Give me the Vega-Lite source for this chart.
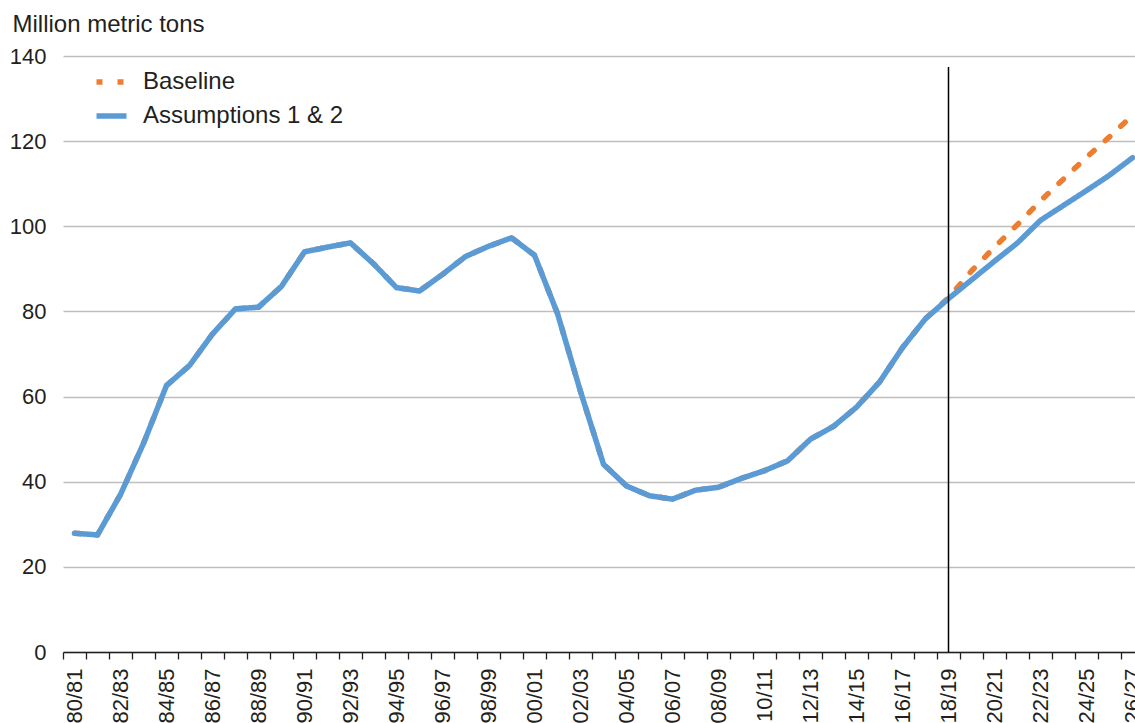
{
  "$schema": "https://vega.github.io/schema/vega-lite/v6.json",
  "width": 1081,
  "height": 596,
  "autosize": {"type": "none"},
  "padding": {"left": 63, "top": 56, "right": -9, "bottom": 71},
  "background": "white",
  "config": {
    "font": "Liberation Sans",
    "view": {"stroke": null},
    "axis": {"labelColor": "#231F20", "titleColor": "#231F20"},
    "legend": {"padding": 0}
  },
  "data": {
    "values": [
      {"year": "80/81", "series": "Baseline", "value": 27.9},
      {"year": "81/82", "series": "Baseline", "value": 27.5},
      {"year": "82/83", "series": "Baseline", "value": 37.0},
      {"year": "83/84", "series": "Baseline", "value": 49.0},
      {"year": "84/85", "series": "Baseline", "value": 62.6},
      {"year": "85/86", "series": "Baseline", "value": 67.3},
      {"year": "86/87", "series": "Baseline", "value": 74.7},
      {"year": "87/88", "series": "Baseline", "value": 80.6},
      {"year": "88/89", "series": "Baseline", "value": 81.0},
      {"year": "89/90", "series": "Baseline", "value": 85.9},
      {"year": "90/91", "series": "Baseline", "value": 94.0},
      {"year": "91/92", "series": "Baseline", "value": 95.1},
      {"year": "92/93", "series": "Baseline", "value": 96.1},
      {"year": "93/94", "series": "Baseline", "value": 91.2},
      {"year": "94/95", "series": "Baseline", "value": 85.6},
      {"year": "95/96", "series": "Baseline", "value": 84.8},
      {"year": "96/97", "series": "Baseline", "value": 88.7},
      {"year": "97/98", "series": "Baseline", "value": 92.9},
      {"year": "98/99", "series": "Baseline", "value": 95.3},
      {"year": "99/00", "series": "Baseline", "value": 97.3},
      {"year": "00/01", "series": "Baseline", "value": 93.2},
      {"year": "01/02", "series": "Baseline", "value": 79.5},
      {"year": "02/03", "series": "Baseline", "value": 61.2},
      {"year": "03/04", "series": "Baseline", "value": 44.1},
      {"year": "04/05", "series": "Baseline", "value": 39.0},
      {"year": "05/06", "series": "Baseline", "value": 36.7},
      {"year": "06/07", "series": "Baseline", "value": 35.9},
      {"year": "07/08", "series": "Baseline", "value": 38.0},
      {"year": "08/09", "series": "Baseline", "value": 38.7},
      {"year": "09/10", "series": "Baseline", "value": 40.8},
      {"year": "10/11", "series": "Baseline", "value": 42.6},
      {"year": "11/12", "series": "Baseline", "value": 44.9},
      {"year": "12/13", "series": "Baseline", "value": 50.0},
      {"year": "13/14", "series": "Baseline", "value": 53.0},
      {"year": "14/15", "series": "Baseline", "value": 57.5},
      {"year": "15/16", "series": "Baseline", "value": 63.4},
      {"year": "16/17", "series": "Baseline", "value": 71.5},
      {"year": "17/18", "series": "Baseline", "value": 78.3},
      {"year": "18/19", "series": "Baseline", "value": 83.2},
      {"year": "19/20", "series": "Baseline", "value": 89.5},
      {"year": "20/21", "series": "Baseline", "value": 95.1},
      {"year": "21/22", "series": "Baseline", "value": 100.4},
      {"year": "22/23", "series": "Baseline", "value": 106.0},
      {"year": "23/24", "series": "Baseline", "value": 111.1},
      {"year": "24/25", "series": "Baseline", "value": 116.2},
      {"year": "25/26", "series": "Baseline", "value": 121.0},
      {"year": "26/27", "series": "Baseline", "value": 126.1},
      {"year": "80/81", "series": "Assumptions 1 & 2", "value": 27.9},
      {"year": "81/82", "series": "Assumptions 1 & 2", "value": 27.5},
      {"year": "82/83", "series": "Assumptions 1 & 2", "value": 37.0},
      {"year": "83/84", "series": "Assumptions 1 & 2", "value": 49.0},
      {"year": "84/85", "series": "Assumptions 1 & 2", "value": 62.6},
      {"year": "85/86", "series": "Assumptions 1 & 2", "value": 67.3},
      {"year": "86/87", "series": "Assumptions 1 & 2", "value": 74.7},
      {"year": "87/88", "series": "Assumptions 1 & 2", "value": 80.6},
      {"year": "88/89", "series": "Assumptions 1 & 2", "value": 81.0},
      {"year": "89/90", "series": "Assumptions 1 & 2", "value": 85.9},
      {"year": "90/91", "series": "Assumptions 1 & 2", "value": 94.0},
      {"year": "91/92", "series": "Assumptions 1 & 2", "value": 95.1},
      {"year": "92/93", "series": "Assumptions 1 & 2", "value": 96.1},
      {"year": "93/94", "series": "Assumptions 1 & 2", "value": 91.2},
      {"year": "94/95", "series": "Assumptions 1 & 2", "value": 85.6},
      {"year": "95/96", "series": "Assumptions 1 & 2", "value": 84.8},
      {"year": "96/97", "series": "Assumptions 1 & 2", "value": 88.7},
      {"year": "97/98", "series": "Assumptions 1 & 2", "value": 92.9},
      {"year": "98/99", "series": "Assumptions 1 & 2", "value": 95.3},
      {"year": "99/00", "series": "Assumptions 1 & 2", "value": 97.3},
      {"year": "00/01", "series": "Assumptions 1 & 2", "value": 93.2},
      {"year": "01/02", "series": "Assumptions 1 & 2", "value": 79.5},
      {"year": "02/03", "series": "Assumptions 1 & 2", "value": 61.2},
      {"year": "03/04", "series": "Assumptions 1 & 2", "value": 44.1},
      {"year": "04/05", "series": "Assumptions 1 & 2", "value": 39.0},
      {"year": "05/06", "series": "Assumptions 1 & 2", "value": 36.7},
      {"year": "06/07", "series": "Assumptions 1 & 2", "value": 35.9},
      {"year": "07/08", "series": "Assumptions 1 & 2", "value": 38.0},
      {"year": "08/09", "series": "Assumptions 1 & 2", "value": 38.7},
      {"year": "09/10", "series": "Assumptions 1 & 2", "value": 40.8},
      {"year": "10/11", "series": "Assumptions 1 & 2", "value": 42.6},
      {"year": "11/12", "series": "Assumptions 1 & 2", "value": 44.9},
      {"year": "12/13", "series": "Assumptions 1 & 2", "value": 50.0},
      {"year": "13/14", "series": "Assumptions 1 & 2", "value": 53.0},
      {"year": "14/15", "series": "Assumptions 1 & 2", "value": 57.5},
      {"year": "15/16", "series": "Assumptions 1 & 2", "value": 63.4},
      {"year": "16/17", "series": "Assumptions 1 & 2", "value": 71.5},
      {"year": "17/18", "series": "Assumptions 1 & 2", "value": 78.3},
      {"year": "18/19", "series": "Assumptions 1 & 2", "value": 83.0},
      {"year": "19/20", "series": "Assumptions 1 & 2", "value": 87.4},
      {"year": "20/21", "series": "Assumptions 1 & 2", "value": 91.8},
      {"year": "21/22", "series": "Assumptions 1 & 2", "value": 96.1},
      {"year": "22/23", "series": "Assumptions 1 & 2", "value": 101.4},
      {"year": "23/24", "series": "Assumptions 1 & 2", "value": 104.9},
      {"year": "24/25", "series": "Assumptions 1 & 2", "value": 108.4},
      {"year": "25/26", "series": "Assumptions 1 & 2", "value": 112.0},
      {"year": "26/27", "series": "Assumptions 1 & 2", "value": 116.1}
    ]
  },
  "resolve": {"axis": {"x": "independent"}},
  "layer": [
    {
      "mark": {"type": "line", "strokeWidth": 5.5, "strokeCap": "round", "strokeJoin": "round"},
      "encoding": {
        "x": {
          "field": "year",
          "type": "ordinal",
          "sort": null,
          "scale": {"type": "band", "paddingInner": 0, "paddingOuter": 0},
          "axis": {
            "orient": "bottom",
            "title": null,
            "domain": false,
            "ticks": false,
            "grid": false,
            "labelAngle": -90,
            "labelAlign": "right",
            "labelBaseline": "middle",
            "labelFontSize": 22,
            "labelPadding": 16,
            "labelOverlap": false,
            "labelExpr": "toNumber(slice(datum.label, 0, 2)) % 2 == 0 ? datum.label : ''"
          }
        },
        "y": {
          "field": "value",
          "type": "quantitative",
          "scale": {"domain": [0, 140], "nice": false},
          "axis": {
            "values": [0, 20, 40, 60, 80, 100, 120, 140],
            "domain": false,
            "ticks": false,
            "grid": true,
            "gridColor": "#BEBEBE",
            "gridWidth": 1.3,
            "labelFontSize": 22,
            "labelPadding": 17,
            "title": "Million metric tons",
            "titleFontSize": 24,
            "titleFontWeight": "normal",
            "titleAngle": 0,
            "titleAlign": "left",
            "titleBaseline": "alphabetic",
            "titleX": -51,
            "titleY": -25
          }
        },
        "color": {
          "field": "series",
          "type": "nominal",
          "sort": null,
          "scale": {"domain": ["Baseline", "Assumptions 1 & 2"], "range": ["#ED7D31", "#5B9BD5"]},
          "legend": {
            "title": null,
            "orient": "none",
            "legendX": 30.5,
            "legendY": 8,
            "symbolType": "stroke",
            "symbolSize": 900,
            "symbolStrokeWidth": 5.5,
            "labelFontSize": 24,
            "labelColor": "#231F20",
            "labelOffset": 13.5,
            "rowPadding": 4,
            "labelLimit": 400
          }
        },
        "strokeDash": {
          "field": "series",
          "type": "nominal",
          "sort": null,
          "scale": {"domain": ["Baseline", "Assumptions 1 & 2"], "range": [[6, 15], [1, 0]]},
          "legend": {
            "title": null,
            "orient": "none",
            "legendX": 30.5,
            "legendY": 8,
            "symbolType": "stroke",
            "symbolSize": 900,
            "symbolStrokeWidth": 5.5,
            "labelFontSize": 24,
            "labelColor": "#231F20",
            "labelOffset": 13.5,
            "rowPadding": 4,
            "labelLimit": 400
          }
        }
      }
    },
    {
      "transform": [{"filter": "datum.year == '18/19' && datum.series == 'Assumptions 1 & 2'"}],
      "mark": {"type": "rule", "color": "#000000", "strokeWidth": 1.5},
      "encoding": {
        "x": {
          "field": "year",
          "type": "ordinal",
          "sort": null,
          "axis": {
            "orient": "bottom",
            "title": null,
            "labels": false,
            "grid": false,
            "domain": true,
            "domainColor": "#231F20",
            "domainWidth": 1.5,
            "ticks": true,
            "tickColor": "#231F20",
            "tickWidth": 1.3,
            "tickSize": 7,
            "bandPosition": 0
          }
        },
        "y": {"datum": 137.4, "type": "quantitative"},
        "y2": {"datum": 0}
      }
    }
  ]
}
